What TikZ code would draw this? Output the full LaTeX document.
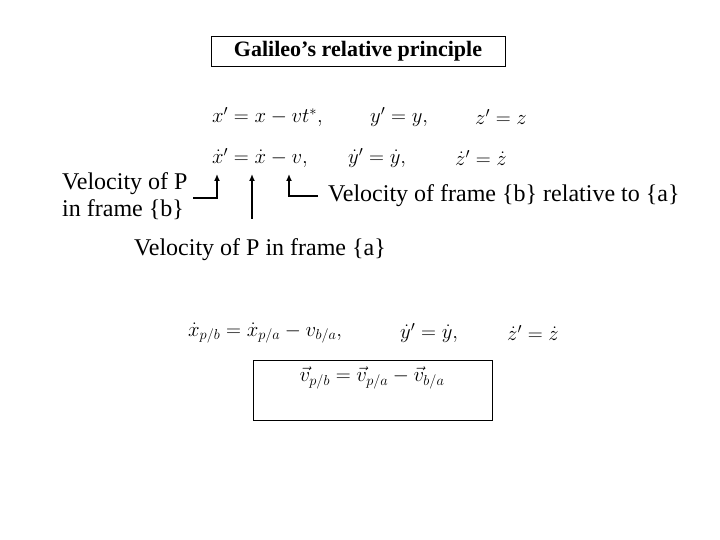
\documentclass[tikz,border=0pt]{standalone}
\usepackage{fontspec}
\setmainfont{Liberation Serif}
\usepackage{amsmath}
\begin{document}
\begin{tikzpicture}[x=1pt,y=-1pt,
  txt/.style={inner sep=0pt,font=\fontsize{24}{27}\selectfont},
  eq/.style={inner sep=0pt,font=\fontsize{22}{25}\selectfont},
  con/.style={draw,line width=1.4pt,-{Latex[length=7pt,width=6pt]}}]
\usetikzlibrary{arrows.meta}
\useasboundingbox (0,0) rectangle (720,540);
\node[draw,thick,minimum width=294,minimum height=30,inner sep=0pt,font=\bfseries\fontsize{22}{25}\selectfont] (title) at (358,51) {Galileo’s relative principle};
\node[eq,anchor=west] (r1a) at (212,117) {$x' = x - vt^{*},$};
\node[eq,anchor=west] (r1b) at (370,117) {$y' = y,$};
\node[eq,anchor=west] (r1c) at (475,117) {$z' = z$};
\node[eq,anchor=west] (r2a) at (212,158) {$\dot x' = \dot x - v,$};
\node[eq,anchor=west] (r2b) at (348,158) {$\dot y' = \dot y,$};
\node[eq,anchor=west] (r2c) at (455,158) {$\dot z' = \dot z$};
\node[txt,align=left,anchor=west] (vb) at (62,196) {Velocity of P\\in frame \{b\}};
\node[txt,anchor=west] (vf) at (328,196) {Velocity of frame \{b\} relative to \{a\}};
\node[txt] (va) at (260,250) {Velocity of P in frame \{a\}};
\coordinate (t1) at (217,174);
\coordinate (t2) at (252,174);
\coordinate (t3) at (289,174);
\draw[con] (193,198) -| (t1);
\draw[con] (va.north -| t2) ++(0,-20) -- (t2);
\draw[con] (vf.west) ++(-10,0) -| (t3);
\node[eq,anchor=west] (r3a) at (188,333) {$\dot x_{p/b} = \dot x_{p/a} - v_{b/a},$};
\node[eq,anchor=west] (r3b) at (400,333) {$\dot y' = \dot y,$};
\node[eq,anchor=west] (r3c) at (507,333) {$\dot z' = \dot z$};
\node[draw,thick,minimum width=239,minimum height=60] (box) at (372.5,390) {};
\node[eq] (r4) at (372,378) {$\vec v_{p/b} = \vec v_{p/a} - \vec v_{b/a}$};
\end{tikzpicture}
\end{document}
